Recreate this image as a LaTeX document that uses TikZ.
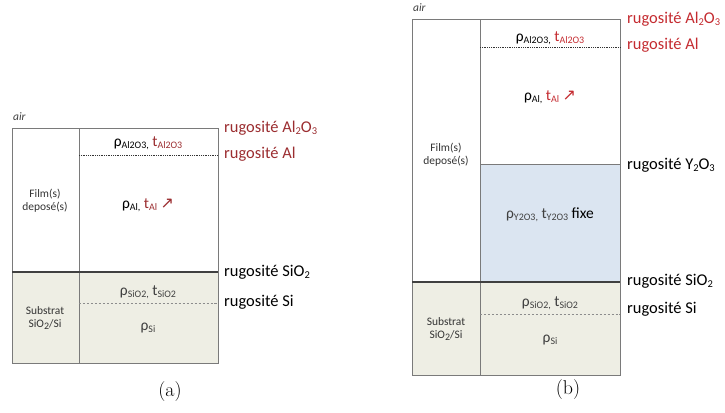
\documentclass[tikz,border=0pt]{standalone}
\usepackage{fontspec}
\newfontfamily\calfont{Carlito}
\newfontfamily\symfont{DejaVu Sans}
\definecolor{subfill}{HTML}{EEEEE4}
\definecolor{yfill}{HTML}{DBE5F1}
\definecolor{reda}{HTML}{9B2D30}
\definecolor{redb}{HTML}{C42B30}
\definecolor{edge}{HTML}{7A7A7A}
\newcommand{\sbs}[1]{\raisebox{-2.2pt}{\fontsize{10}{10}\selectfont #1}}
\newcommand{\dwn}[1]{\raisebox{-2pt}{\fontsize{10.5}{11}\selectfont #1}}
\begin{document}
\begin{tikzpicture}[x=1bp,y=-1bp,
  every node/.style={font=\calfont, inner sep=0pt},
  rug/.style={anchor=west, font=\calfont\fontsize{16.5}{18}\selectfont},
  rho/.style={font=\calfont\fontsize{15.5}{16}\selectfont},
  side/.style={font=\calfont\fontsize{11.5}{13.5}\selectfont, align=center, text=black!80},
  airlbl/.style={anchor=west, font=\calfont\itshape\fontsize{11.5}{12}\selectfont, text=black!75},
  captxt/.style={font=\rmfamily\fontsize{20}{22}\selectfont},
  border/.style={draw=edge, line width=0.8pt},
  topline/.style={draw=black!75, line width=1.4pt},
  dotl/.style={draw=black!80, line width=0.7pt, dash pattern=on 1pt off 0.8pt},
  dashl/.style={draw=black!45, line width=0.9pt, dash pattern=on 2.5pt off 1.5pt}
]
\useasboundingbox (0,0) rectangle (725,412);
% ---------- (a) ----------
\fill[subfill] (12,272) rectangle (218,363);
\draw[border] (12,128) rectangle (218,363);
\draw[border] (79,128) -- (79,363);
\draw[dotl] (79,155) -- (218,155);
\draw[dashl] (79,303) -- (218,303);
\draw[topline] (12,272) -- (218,272);
\node[airlbl] (aair) at (13,117) {air};
\node[side] (afilm) at (45,201) {Film(s)\\deposé(s)};
\node[side] (asub) at (45,318) {Substrat\\SiO\sbs{2}/Si};
\node[rho] (aalo) at (148,143) {ρ\sbs{Al2O3,} \textcolor{reda}{t\sbs{Al2O3}}};
\node[rho] (aal) at (148,205) {ρ\sbs{Al,} \textcolor{reda}{t\sbs{Al} {\symfont\fontsize{16}{16}\selectfont ↗}}};
\node[rho, text=black!75] (asio) at (148,292) {ρ\sbs{SiO2,} t\sbs{SiO2}};
\node[rho, text=black!75] (asi) at (148,328) {ρ\sbs{Si}};
\node[rug, text=reda] (ar1) at (224,128) {rugosité Al\dwn{2}O\dwn{3}};
\node[rug, text=reda] (ar2) at (224,154) {rugosité Al};
\node[rug] (ar3) at (224,272) {rugosité SiO\dwn{2}};
\node[rug] (ar4) at (224,302) {rugosité Si};
\node[captxt] (capa) at (170,392) {(a)};
% ---------- (b) ----------
\fill[subfill] (412,282) rectangle (620,375);
\fill[yfill] (480,164) rectangle (620,282);
\draw[border] (412,19) rectangle (620,375);
\draw[border] (480,19) -- (480,375);
\draw[border] (480,164) -- (620,164);
\draw[dotl] (480,47) -- (620,47);
\draw[dashl] (480,314) -- (620,314);
\draw[topline] (412,282) -- (620,282);
\node[airlbl] (bair) at (413,8) {air};
\node[side] (bfilm) at (446,155) {Film(s)\\deposé(s)};
\node[side] (bsub) at (446,329) {Substrat\\SiO\sbs{2}/Si};
\node[rho] (balo) at (550,38) {ρ\sbs{Al2O3,} \textcolor{redb}{t\sbs{Al2O3}}};
\node[rho] (bal) at (550,97) {ρ\sbs{Al,} \textcolor{redb}{t\sbs{Al} {\symfont\fontsize{16}{16}\selectfont ↗}}};
\node[rho] (byo) at (550,215) {\textcolor{black!75}{ρ\sbs{Y2O3,} t\sbs{Y2O3}} fixe};
\node[rho, text=black!75] (bsio) at (550,303) {ρ\sbs{SiO2,} t\sbs{SiO2}};
\node[rho, text=black!75] (bsi) at (550,340) {ρ\sbs{Si}};
\node[rug, text=redb] (br1) at (627,19) {rugosité Al\dwn{2}O\dwn{3}};
\node[rug, text=redb] (br2) at (627,45) {rugosité Al};
\node[rug] (br3) at (627,165) {rugosité Y\dwn{2}O\dwn{3}};
\node[rug] (br4) at (627,281) {rugosité SiO\dwn{2}};
\node[rug] (br5) at (627,309) {rugosité Si};
\node[captxt] (capb) at (568,390) {(b)};
\end{tikzpicture}
\end{document}
